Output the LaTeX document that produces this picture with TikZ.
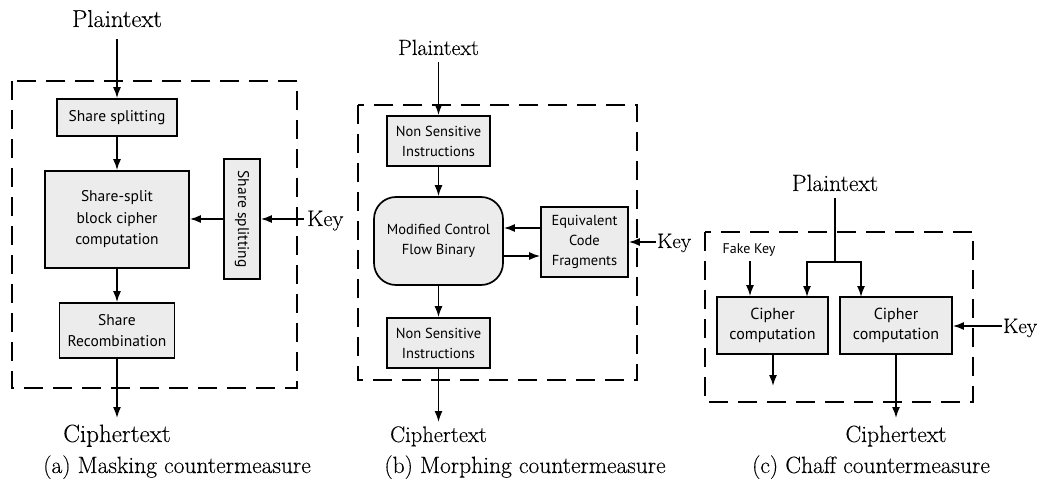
\documentclass[tikz,border=0pt]{standalone}
\usepackage{fontspec}
\setmainfont{Latin Modern Roman}[FakeBold=0.2]
\newfontfamily\boxfont{PT Sans}
\usetikzlibrary{arrows.meta}
\definecolor{boxgray}{RGB}{236,236,236}
\begin{document}
\begin{tikzpicture}[x=1pt,y=-1pt,
  box/.style={draw, line width=1.7pt, fill=boxgray, align=center, inner sep=0pt},
  fa/.style={font=\boxfont\fontsize{15.5}{21.5}\selectfont},
  fb/.style={font=\boxfont\fontsize{14.5}{20}\selectfont},
  fc/.style={font=\boxfont\fontsize{16}{20}\selectfont},
  arr/.style={-{Latex[length=11pt,width=8pt]}, line width=1.6pt},
  ln/.style={line width=1.6pt},
  frame/.style={draw, line width=2.6pt, dash pattern=on 19pt off 10pt},
  lbl/.style={anchor=base, inner sep=0pt},
  captxt/.style={anchor=base, inner sep=0pt, font=\fontsize{23.5}{26}\selectfont}]
\useasboundingbox (0,0) rectangle (1040,481);

% ---------------- (a) Masking ----------------
\draw[frame] (12,81) rectangle (297,388);
\node[lbl, font=\fontsize{24.5}{26}\selectfont] (pa) at (117,27) {Plaintext};
\coordinate (pa-o) at (117,39);
\node[box, fa, minimum width=120, minimum height=37] (ss) at (117,117.5) {Share splitting};
\node[box, fa, minimum width=144, minimum height=97] (bc) at (117,219.5) {Share-split\\block cipher\\computation};
\node[box, fa, minimum width=120, minimum height=36, rotate=-90] (vs) at (242,219) {Share splitting};
\node[box, fa, minimum width=115, minimum height=55] (rc) at (117,330.5) {Share\\Recombination};
\node[lbl, font=\fontsize{25}{27}\selectfont] (ca) at (117,442) {Ciphertext};
\coordinate (ca-i) at (117,418);
\node[lbl, anchor=base west, font=\fontsize{22.5}{24}\selectfont] (ka) at (307,226) {Key};
\coordinate (ka-o) at (304,219);
\draw[arr] (pa-o) -- (ss.north);
\draw[arr] (ss.south) -- (bc.north);
\draw[arr] (vs.south) -- (vs.south -| bc.east);
\draw[arr] (ka-o) -- (ka-o -| vs.north);
\draw[arr] (bc.south) -- (rc.north);
\draw[arr] (rc.south) -- (ca-i);
\node[captxt] (capa) at (177,473) {(a) Masking countermeasure};

% ---------------- (b) Morphing ----------------
\draw[frame] (358,105) rectangle (637,380);
\node[lbl, font=\fontsize{22}{24}\selectfont] (pb) at (438.5,55) {Plaintext};
\coordinate (pb-o) at (438.5,62);
\node[box, fb, minimum width=103, minimum height=50] (n1) at (438.5,141) {Non Sensitive\\Instructions};
\node[box, fb, minimum width=129, minimum height=88, rounded corners=22pt] (mc) at (438.5,241) {Modified Control\\Flow Binary};
\node[box, fb, minimum width=87, minimum height=70] (eq) at (584.5,242) {Equivalent\\Code\\Fragments};
\node[box, fb, minimum width=103, minimum height=50] (n2) at (438.5,343) {Non Sensitive\\Instructions};
\node[lbl, font=\fontsize{22.5}{24}\selectfont] (cb) at (438.5,442) {Ciphertext};
\coordinate (cb-i) at (438.5,422);
\node[lbl, anchor=base west, font=\fontsize{21}{23}\selectfont] (kb) at (657,248) {Key};
\coordinate (kb-o) at (656,242);
\draw[arr] (pb-o) -- (n1.north);
\draw[arr] (n1.south) -- (mc.north);
\draw[arr] ([yshift=14pt]eq.west) -- ([yshift=14pt]eq.west -| mc.east);
\draw[arr] ([yshift=-14pt]eq.west -| mc.east) -- ([yshift=-14pt]eq.west);
\draw[arr] (kb-o) -- (kb-o -| eq.east);
\draw[arr] (mc.south) -- (n2.north);
\draw[arr] (n2.south) -- (cb-i);
\node[captxt] (capb) at (525,473) {(b) Morphing countermeasure};

% ---------------- (c) Chaff ----------------
\draw[frame] (705,232) rectangle (973,402);
\node[lbl, font=\fontsize{23.5}{25}\selectfont] (pc) at (835,191) {Plaintext};
\coordinate (pc-o) at (835,198);
\coordinate (jn) at (835,262);
\node[box, fc, minimum width=111, minimum height=57] (c1) at (772.5,325.5) {Cipher\\computation};
\node[box, fc, minimum width=112, minimum height=57] (c2) at (896,325.5) {Cipher\\computation};
\node[lbl, font=\boxfont\fontsize{14}{16}\selectfont] (fk) at (749,253) {Fake Key};
\coordinate (fk-o) at (750,261);
\coordinate (c1-o) at (773,386);
\node[lbl, font=\fontsize{23.5}{25}\selectfont] (cc) at (896,442) {Ciphertext};
\coordinate (cc-i) at (896,418);
\node[lbl, anchor=base west, font=\fontsize{21}{23}\selectfont] (kc) at (1003,333) {Key};
\coordinate (kc-o) at (1002,326);
\draw[ln] (pc-o) -- (jn);
\draw[arr] (jn) -| (807,297);
\draw[arr] (jn) -| (861,297);
\draw[arr] (fk-o) -- (fk-o |- c1.north);
\draw[arr] (c1-o |- c1.south) -- (c1-o);
\draw[arr] (c2.south) -- (cc-i);
\draw[arr] (kc-o) -- (kc-o -| c2.east);
\node[captxt] (capc) at (871,473) {(c) Chaff countermeasure};
\end{tikzpicture}
\end{document}
